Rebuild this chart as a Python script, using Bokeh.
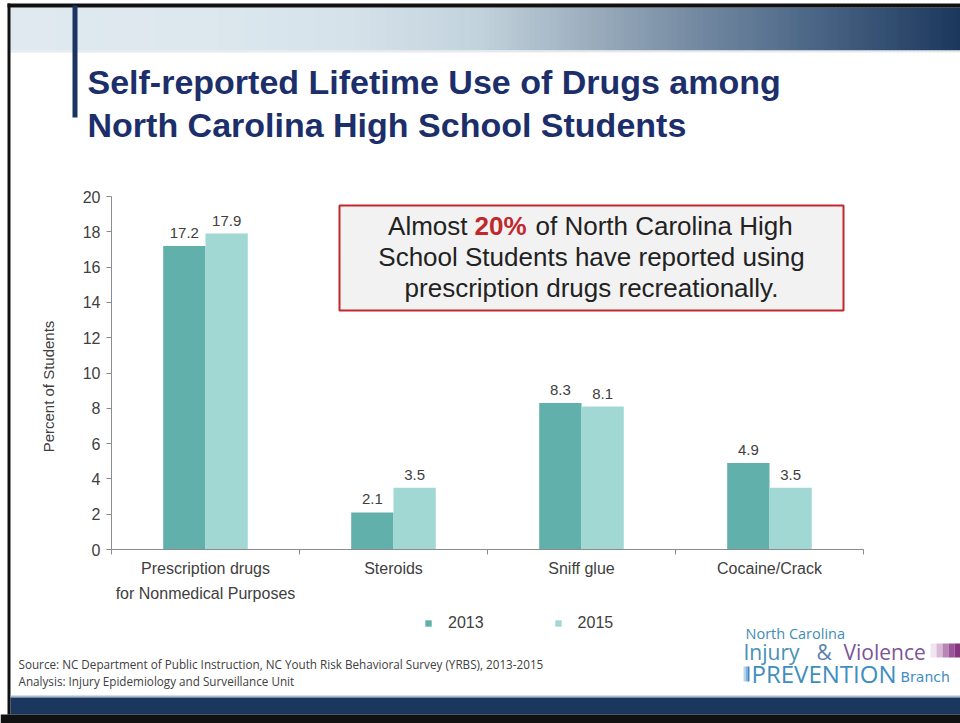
import numpy as np
from bokeh.plotting import figure
from bokeh.models import (ColumnDataSource, Range1d, FixedTicker, LinearAxis,
                          LabelSet, Legend, LegendItem)
from bokeh.core.properties import value
from bokeh.transform import dodge
from bokeh.embed import file_html
from bokeh.resources import INLINE

# ---------------- data ----------------
categories = ["Prescription drugs\nfor Nonmedical Purposes", "Steroids", "Sniff glue", "Cocaine/Crack"]
years = ["2013", "2015"]
pct_2013 = [17.2, 2.1, 8.3, 4.9]
pct_2015 = [17.9, 3.5, 8.1, 3.5]
y_ticks = [0, 2, 4, 6, 8, 10, 12, 14, 16, 18, 20]
title_lines = ["Self-reported Lifetime Use of Drugs among", "North Carolina High School Students"]
callout_parts = ["Almost", "20%", "of North Carolina High"]
callout_lines = ["School Students have reported using", "prescription drugs recreationally."]
source_lines = ["Source: NC Department of Public Instruction, NC Youth Risk Behavioral Survey (YRBS), 2013-2015",
                "Analysis: Injury Epidemiology and Surveillance Unit"]
y_title = "Percent of Students"

# ---------------- style / layout ----------------
W, H = 960, 723
FL, FR, FT, FB = 111, 863, 196, 549          # chart area inside the slide (pixels)
Y_MAX = 20.0
C13, C15 = "#62b0ab", "#a2d8d4"
NAVY = "#1c2f6b"
AXIS = "#8c8c8c"
TXT = "#404040"
FONT = "Liberation Sans"
BAR_W = 0.225

n = len(categories)
ux = (FR - FL) / n            # px per category
uy = (FB - FT) / Y_MAX        # px per percent
x_range = Range1d(-FL / ux, n + (W - FR) / ux)
y_range = Range1d(-(H - FB) / uy, Y_MAX + FT / uy)

p = figure(width=W, height=H, x_range=x_range, y_range=y_range, title=None,
           output_backend="svg", toolbar_location=None, x_axis_type=None, y_axis_type=None,
           min_border=0, min_border_left=0, min_border_right=0, min_border_top=0, min_border_bottom=0)
p.outline_line_color = None
p.background_fill_color = "white"
p.border_fill_color = "white"
p.extra_x_ranges = {"px": Range1d(0, W)}
p.extra_y_ranges = {"px": Range1d(H, 0)}
PX = dict(x_range_name="px", y_range_name="px")


def rects(l, t, r, b, colors):
    p.quad(left=l, right=r, top=t, bottom=b, fill_color=colors, line_color=None, **PX)


def txt(x, y, s, size, color, font=FONT, style="normal", align="left", baseline="middle", angle=0):
    p.text(x=[x], y=[y], text=[s], text_font=value(font), text_font_size=size, text_color=color,
           text_font_style=style, text_align=align, text_baseline=baseline, angle=angle, **PX)


def hexrgb(h):
    h = h.lstrip("#")
    return np.array([int(h[i:i + 2], 16) for i in (0, 2, 4)], dtype=float)


# ---------------- slide decorations ----------------
stops_x = [9, 200, 350, 480, 600, 700, 800, 960]
stops_c = ["#dfe9ef", "#dde8ee", "#d5e2ea", "#c2d2dc", "#98aabb", "#7288a0", "#4f6a89", "#1b375c"]
rgb = np.array([hexrgb(c) for c in stops_c])
step = 4
xs0 = np.arange(9, 960, step)
cols = []
for x0 in xs0:
    c = [np.interp(x0 + step / 2, stops_x, rgb[:, k]) for k in range(3)]
    cols.append("#%02x%02x%02x" % tuple(int(round(v)) for v in c))
rects(list(xs0), [7] * len(xs0), list(xs0 + step + 0.6), [50] * len(xs0), cols)
rects([9], [50], [960], [52], ["#e6eaed"])
rects([7, 7, 72, 10, 10, 0], [3, 3, 5, 695, 697, 714], [960, 10, 77, 960, 960, 960],
      [7, 714, 117, 697, 714, 723],
      ["#111111", "#111111", "#1b3560", "#a9bccd", "#1c375e", "#111111"])

for i, t in enumerate(title_lines):
    txt(87, 81 + 43 * i, t, "34px", NAVY, style="bold")

# ---------------- axes ----------------
centers = [i + 0.5 for i in range(n)]
bounds = [float(i) for i in range(n + 1)]
xaxis = LinearAxis(ticker=FixedTicker(ticks=centers, minor_ticks=bounds), fixed_location=0,
                   bounds=(0, n),
                   major_label_overrides={c: lab for c, lab in zip(centers, categories)},
                   axis_line_color=AXIS, major_tick_line_color=None, major_tick_out=0, major_tick_in=0,
                   minor_tick_line_color=AXIS, minor_tick_out=5, minor_tick_in=0,
                   major_label_standoff=5, major_label_text_font=FONT,
                   major_label_text_font_size="16px", major_label_text_color=TXT,
                   major_label_text_line_height=1.5)
p.add_layout(xaxis, "below")

yaxis = LinearAxis(ticker=FixedTicker(ticks=y_ticks, minor_ticks=[]), fixed_location=0,
                   bounds=(0, Y_MAX),
                   axis_line_color=AXIS, major_tick_line_color=AXIS, major_tick_out=5, major_tick_in=0,
                   minor_tick_line_color=None, major_label_standoff=6, major_label_text_font=FONT,
                   major_label_text_font_size="16px", major_label_text_color=TXT)
p.add_layout(yaxis, "left")

txt(48, 386, y_title, "15px", TXT, align="center", angle=np.pi / 2)

# ---------------- bars ----------------
src = ColumnDataSource(dict(x=centers, v2013=pct_2013, v2015=pct_2015,
                            l2013=["%.1f" % v for v in pct_2013], l2015=["%.1f" % v for v in pct_2015]))
r13 = p.vbar(x=dodge("x", -BAR_W / 2), top="v2013", width=BAR_W, source=src,
             fill_color=C13, line_color=None)
r15 = p.vbar(x=dodge("x", BAR_W / 2), top="v2015", width=BAR_W, source=src,
             fill_color=C15, line_color=None)
for col, off in (("2013", -BAR_W / 2), ("2015", BAR_W / 2)):
    p.add_layout(LabelSet(x=dodge("x", off), y="v" + col, text="l" + col, source=src,
                          text_align="center", text_baseline="middle", y_offset=13,
                          text_font=value(FONT), text_font_size="15px", text_color=TXT))

legend = Legend(items=[LegendItem(label=years[0], renderers=[r13]),
                       LegendItem(label=years[1], renderers=[r15])],
                orientation="horizontal", location=(424, H - 632),
                glyph_width=8, glyph_height=8, label_standoff=16, spacing=70,
                padding=0, margin=0, border_line_color=None, background_fill_alpha=0,
                label_text_font=FONT, label_text_font_size="16px", label_text_color=TXT,
                label_height=16)
p.add_layout(legend)

# ---------------- callout box ----------------
p.quad(left=[339], right=[843], top=[205], bottom=[310], fill_color="#f2f2f2",
       line_color="#c0282d", line_width=2, **PX)
txt(467, 225.5, callout_parts[0], "26px", "#222222", align="right")
txt(474, 225.5, callout_parts[1], "26px", "#c0282d", style="bold")
txt(535, 225.5, callout_parts[2], "26px", "#222222")
for i, t in enumerate(callout_lines):
    txt(591, 256.5 + 31 * i, t, "26px", "#222222", align="center")

# ---------------- source ----------------
for i, t in enumerate(source_lines):
    txt(18, 663 + 17 * i, t, "11.7px", TXT, font="Open Sans")

# ---------------- logo ----------------
LOGO = "Open Sans"
txt(745, 633, "North Carolina", "14.5px", "#3f8db2", font=LOGO)
txt(743, 651, "Injury", "21px", "#4a90b3", font=LOGO)
txt(816, 651, "&", "21px", "#5a7fb0", font=LOGO)
txt(843, 651, "Violence", "21px", "#7d5498", font=LOGO)
rects([930, 936, 942, 948, 954], [643] * 5, [936, 942, 948, 954, 960], [657] * 5,
      ["#f1e6f0", "#d9b9d6", "#b985b5", "#9a5598", "#85357f"])
rects([743, 745, 747], [666] * 3, [745, 747, 749], [681] * 3, ["#b9d8ec", "#7fb4dc", "#3f86c6"])
txt(751, 673, "PREVENTION", "24px", "#3f8ec0", font=LOGO)
txt(900, 676, "Branch", "14px", "#3f8ec0", font="DejaVu Sans")

open("out.html", "w").write(file_html(p, INLINE))
